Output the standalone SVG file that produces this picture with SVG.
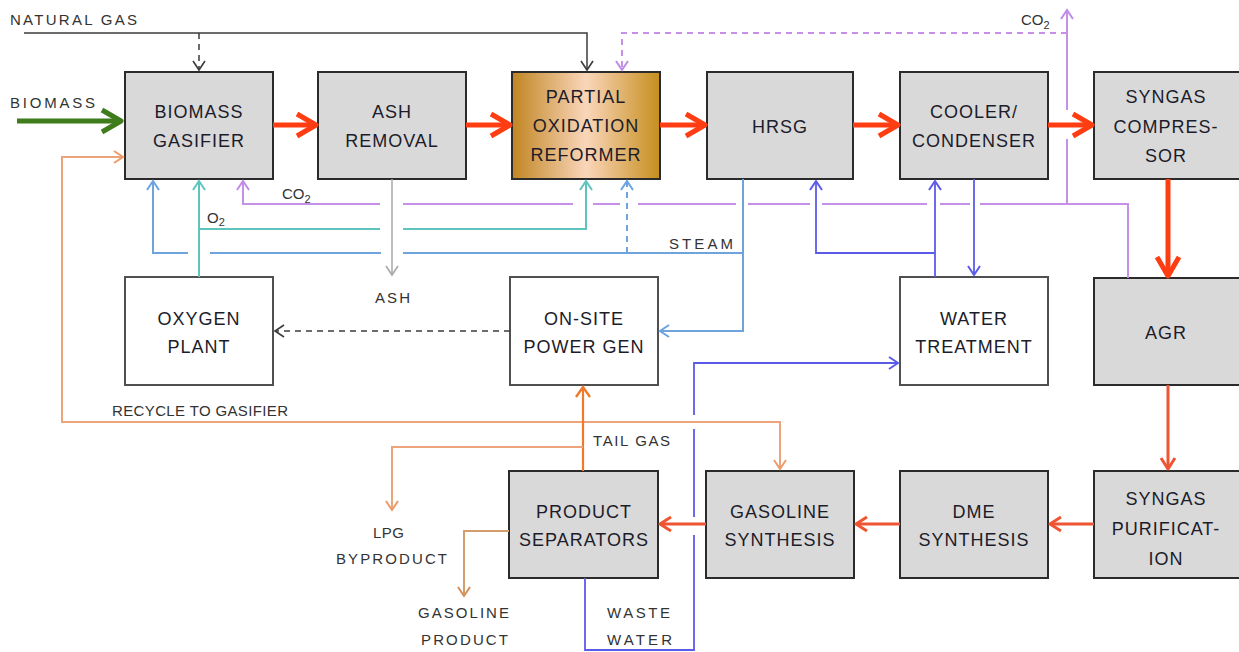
<svg xmlns="http://www.w3.org/2000/svg" width="1239" height="652" viewBox="0 0 1239 652">
<style>
.box{fill:#d9d9d9;stroke:#2b2b2b;stroke-width:2}
.wbox{fill:#ffffff;stroke:#505050;stroke-width:2}
.n{font-family:"Liberation Sans",Arial,sans-serif;font-size:18px;letter-spacing:1px;fill:#1c1c2a;text-anchor:middle}
.l{font-family:"Liberation Sans",Arial,sans-serif;font-size:15px;fill:#333333}
.c{fill:none;stroke-linejoin:miter}
.dark{stroke:#3c3c3c;stroke-width:1.5}
.green{stroke:#3f7d1c;stroke-width:5}
.red{stroke:#ff3d12;stroke-width:5}
.red2{stroke:#ef5533;stroke-width:3}
.gray{stroke:#a8a8a8;stroke-width:1.5}
.purple{stroke:#c690e6;stroke-width:2}
.teal{stroke:#5ec4bd;stroke-width:2}
.blue{stroke:#6fa3dc;stroke-width:2}
.indigo{stroke:#5b5bea;stroke-width:1.8}
.orange{stroke:#f07a2a;stroke-width:2.2}
.lorange{stroke:#eea47a;stroke-width:2}
.tan{stroke:#d49d6c;stroke-width:2}
.dash{stroke-dasharray:6 5}
</style>
<defs>
<linearGradient id="gold" x1="0" y1="0" x2="1" y2="0">
<stop offset="0" stop-color="#c08522"/>
<stop offset="0.5" stop-color="#fad6ba"/>
<stop offset="1" stop-color="#c68e1e"/>
</linearGradient>
<marker id="mDark" viewBox="0 0 14 14" refX="12" refY="7" markerWidth="14" markerHeight="14" orient="auto" markerUnits="userSpaceOnUse"><path d="M3,1 L12,7 L3,13" fill="none" stroke="#3c3c3c" stroke-width="1.6"/></marker>
<marker id="mGray" viewBox="0 0 14 14" refX="12" refY="7" markerWidth="14" markerHeight="14" orient="auto" markerUnits="userSpaceOnUse"><path d="M3,1 L12,7 L3,13" fill="none" stroke="#a8a8a8" stroke-width="1.6"/></marker>
<marker id="mPurple" viewBox="0 0 14 14" refX="12" refY="7" markerWidth="14" markerHeight="14" orient="auto" markerUnits="userSpaceOnUse"><path d="M3,1 L12,7 L3,13" fill="none" stroke="#c08ae8" stroke-width="2"/></marker>
<marker id="mTeal" viewBox="0 0 14 14" refX="12" refY="7" markerWidth="14" markerHeight="14" orient="auto" markerUnits="userSpaceOnUse"><path d="M3,1 L12,7 L3,13" fill="none" stroke="#5ec4bd" stroke-width="2"/></marker>
<marker id="mBlue" viewBox="0 0 14 14" refX="12" refY="7" markerWidth="14" markerHeight="14" orient="auto" markerUnits="userSpaceOnUse"><path d="M3,1 L12,7 L3,13" fill="none" stroke="#6aa2e4" stroke-width="2"/></marker>
<marker id="mIndigo" viewBox="0 0 14 14" refX="12" refY="7" markerWidth="14" markerHeight="14" orient="auto" markerUnits="userSpaceOnUse"><path d="M3,1 L12,7 L3,13" fill="none" stroke="#5b5bea" stroke-width="2"/></marker>
<marker id="mOrange" viewBox="0 0 16 16" refX="13" refY="8" markerWidth="16" markerHeight="16" orient="auto" markerUnits="userSpaceOnUse"><path d="M3,1 L13,8 L3,15" fill="none" stroke="#f07a2a" stroke-width="2.4"/></marker>
<marker id="mLorange" viewBox="0 0 14 14" refX="12" refY="7" markerWidth="14" markerHeight="14" orient="auto" markerUnits="userSpaceOnUse"><path d="M3,1 L12,7 L3,13" fill="none" stroke="#ee9a6a" stroke-width="2"/></marker>
<marker id="mTan" viewBox="0 0 14 14" refX="12" refY="7" markerWidth="14" markerHeight="14" orient="auto" markerUnits="userSpaceOnUse"><path d="M3,1 L12,7 L3,13" fill="none" stroke="#d4905a" stroke-width="2"/></marker>
<marker id="mRed2" viewBox="0 0 18 18" refX="15" refY="9" markerWidth="18" markerHeight="18" orient="auto" markerUnits="userSpaceOnUse"><path d="M4,2 L15,9 L4,16" fill="none" stroke="#ef5533" stroke-width="3" stroke-linejoin="round"/></marker>
<marker id="mRed" viewBox="0 0 28 28" refX="24" refY="14" markerWidth="28" markerHeight="28" orient="auto" markerUnits="userSpaceOnUse"><path d="M5,3 L24,14 L5,25" fill="none" stroke="#ff3d12" stroke-width="5" stroke-linejoin="round"/></marker>
<marker id="mGreen" viewBox="0 0 28 28" refX="24" refY="14" markerWidth="28" markerHeight="28" orient="auto" markerUnits="userSpaceOnUse"><path d="M5,3 L24,14 L5,25" fill="none" stroke="#3f7d1c" stroke-width="5" stroke-linejoin="round"/></marker>
</defs>

<g id="gasifier"><rect class="box" x="125" y="72" width="148" height="107"/><text class="n" x="199" y="118">BIOMASS</text><text class="n" x="199" y="147">GASIFIER</text></g>
<g id="ash-removal"><rect class="box" x="318" y="72" width="148" height="107"/><text class="n" x="392" y="118">ASH</text><text class="n" x="392" y="147">REMOVAL</text></g>
<g id="reformer"><rect x="512" y="72" width="148" height="107" fill="url(#gold)" stroke="#2b2b2b" stroke-width="2"/><text class="n" x="586" y="103">PARTIAL</text><text class="n" x="586" y="132">OXIDATION</text><text class="n" x="586" y="161">REFORMER</text></g>
<g id="hrsg"><rect class="box" x="707" y="72" width="146" height="107"/><text class="n" x="780" y="133">HRSG</text></g>
<g id="cooler"><rect class="box" x="900" y="72" width="148" height="107"/><text class="n" x="974" y="118">COOLER/</text><text class="n" x="974" y="147">CONDENSER</text></g>
<g id="compressor"><rect class="box" x="1094" y="72" width="147" height="107"/><text class="n" x="1166" y="103">SYNGAS</text><text class="n" x="1166" y="133">COMPRES-</text><text class="n" x="1166" y="162">SOR</text></g>
<g id="oxygen-plant"><rect class="wbox" x="125" y="277" width="148" height="108"/><text class="n" x="199" y="325">OXYGEN</text><text class="n" x="199" y="353">PLANT</text></g>
<g id="power-gen"><rect class="wbox" x="510" y="277" width="148" height="108"/><text class="n" x="584" y="325">ON-SITE</text><text class="n" x="584" y="353">POWER GEN</text></g>
<g id="water-treatment"><rect class="wbox" x="900" y="277" width="148" height="108"/><text class="n" x="974" y="325">WATER</text><text class="n" x="974" y="353">TREATMENT</text></g>
<g id="agr"><rect class="box" x="1094" y="278" width="147" height="107"/><text class="n" x="1166" y="339">AGR</text></g>
<g id="product-separators"><rect class="box" x="509" y="471" width="149" height="107"/><text class="n" x="584" y="518">PRODUCT</text><text class="n" x="584" y="546">SEPARATORS</text></g>
<g id="gasoline-synthesis"><rect class="box" x="706" y="471" width="148" height="107"/><text class="n" x="780" y="518">GASOLINE</text><text class="n" x="780" y="546">SYNTHESIS</text></g>
<g id="dme-synthesis"><rect class="box" x="900" y="471" width="148" height="107"/><text class="n" x="974" y="518">DME</text><text class="n" x="974" y="546">SYNTHESIS</text></g>
<g id="syngas-purification"><rect class="box" x="1094" y="471" width="147" height="107"/><text class="n" x="1166" y="505">SYNGAS</text><text class="n" x="1166" y="535">PURIFICAT-</text><text class="n" x="1166" y="565">ION</text></g>

<g id="connectors">
<path class="c dark" d="M24,33 H587 V70" marker-end="url(#mDark)"/>
<path class="c dark dash" d="M199,33 V70" marker-end="url(#mDark)"/>
<path class="c green" d="M17,121 H121" marker-end="url(#mGreen)"/>
<path class="c red" d="M273,125 H316" marker-end="url(#mRed)"/>
<path class="c red" d="M466,125 H510" marker-end="url(#mRed)"/>
<path class="c red" d="M660,125 H705" marker-end="url(#mRed)"/>
<path class="c red" d="M853,125 H898" marker-end="url(#mRed)"/>
<path class="c red" d="M1048,125 H1092" marker-end="url(#mRed)"/>
<path class="c red" d="M1168,179 V276" marker-end="url(#mRed)"/>
<path class="c red2" d="M1168,385 V469" marker-end="url(#mRed2)"/>
<path class="c red2" d="M1094,524 H1050" marker-end="url(#mRed2)"/>
<path class="c red2" d="M900,524 H856" marker-end="url(#mRed2)"/>
<path class="c red2" d="M706,524 H660" marker-end="url(#mRed2)"/>
<path class="c gray" d="M392,179 V275" marker-end="url(#mGray)"/>
<path class="c purple" d="M1128,278 V204 H980 M970,204 H940 M927,204 H822 M810,204 H748 M736,204 H638 M620,204 H593 M573,204 H403 M380,204 H243 V181" marker-end="url(#mPurple)"/>
<path class="c purple" d="M1067,204 V139 M1067,110 V10" marker-end="url(#mPurple)"/>
<path class="c purple dash" d="M1067,33 H622 V70" marker-end="url(#mPurple)"/>
<path class="c teal" d="M199,277 V181" marker-end="url(#mTeal)"/>
<path class="c teal" d="M199,229 H380 M403,229 H586 V181" marker-end="url(#mTeal)"/>
<path class="c blue" d="M743,179 V331 H660" marker-end="url(#mBlue)"/>
<path class="c blue" d="M743,253 H403 M381,253 H210 M188,253 H153 V181" marker-end="url(#mBlue)"/>
<path class="c blue dash" d="M627,253 V181" marker-end="url(#mBlue)"/>
<path class="c indigo" d="M935,277 V181" marker-end="url(#mIndigo)"/>
<path class="c indigo" d="M935,253 H816 V181" marker-end="url(#mIndigo)"/>
<path class="c indigo" d="M974,179 V275" marker-end="url(#mIndigo)"/>
<path class="c indigo" d="M585,578 V650 H694 V535 M694,517 V429 M694,415 V363 H898" marker-end="url(#mIndigo)"/>
<path class="c lorange" d="M583,422 H62 V157 H123" marker-end="url(#mLorange)"/>
<path class="c lorange" d="M583,422 H780 V469" marker-end="url(#mLorange)"/>
<path class="c orange" d="M583,471 V387" marker-end="url(#mOrange)"/>
<path class="c lorange" d="M583,447 H392 V510" marker-end="url(#mLorange)"/>
<path class="c tan" d="M509,531 H464 V596" marker-end="url(#mTan)"/>
<path class="c dark dash" d="M510,331 H275" marker-end="url(#mDark)"/>
</g>

<g id="labels">
<text class="l" x="10" y="25" textLength="127" lengthAdjust="spacing">NATURAL GAS</text>
<text class="l" x="10" y="108" textLength="85" lengthAdjust="spacing">BIOMASS</text>
<text class="l" x="282" y="199">CO<tspan font-size="11" dy="4">2</tspan></text>
<text class="l" x="207" y="223">O<tspan font-size="11" dy="3">2</tspan></text>
<text class="l" x="1021" y="25">CO<tspan font-size="11" dy="4">2</tspan></text>
<text class="l" x="375" y="303" textLength="35" lengthAdjust="spacing">ASH</text>
<text class="l" x="669" y="249" textLength="64" lengthAdjust="spacing">STEAM</text>
<text class="l" x="112" y="416" textLength="176" lengthAdjust="spacing">RECYCLE TO GASIFIER</text>
<text class="l" x="593" y="446" textLength="77" lengthAdjust="spacing">TAIL GAS</text>
<text class="l" x="373" y="538" textLength="31" lengthAdjust="spacing">LPG</text>
<text class="l" x="336" y="564" textLength="111" lengthAdjust="spacing">BYPRODUCT</text>
<text class="l" x="418" y="618" textLength="91" lengthAdjust="spacing">GASOLINE</text>
<text class="l" x="421" y="645" textLength="87" lengthAdjust="spacing">PRODUCT</text>
<text class="l" x="607" y="618" textLength="63" lengthAdjust="spacing">WASTE</text>
<text class="l" x="607" y="645" textLength="65" lengthAdjust="spacing">WATER</text>
</g>
</svg>
